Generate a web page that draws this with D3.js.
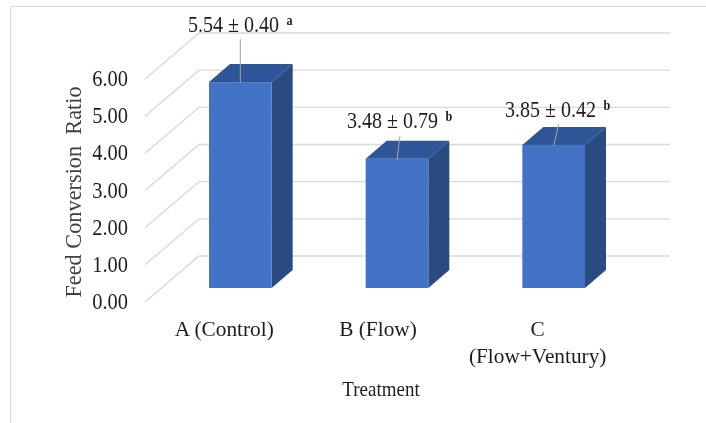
<!DOCTYPE html>
<html><head><meta charset="utf-8">
<script src="https://cdn.jsdelivr.net/npm/d3@7"></script>
<style>
html,body{margin:0;padding:0;background:#fff}
svg{display:block;filter:blur(0.35px)}
text{font-family:"Liberation Serif","Times New Roman",serif;fill:#1c1c1c}
</style></head><body>
<svg id="c" width="706" height="423"></svg>
<script>
const categories = ["A (Control)", "B (Flow)", "C"];
const categorySecondLines = ["", "", "(Flow+Ventury)"];
const values = [5.54, 3.48, 3.85];
const errors = ["0.40", "0.79", "0.42"];
const letters = ["a", "b", "b"];
const yTicks = [0, 1, 2, 3, 4, 5, 6];
const yTitle = "Feed Conversion\u00a0\u00a0Ratio";
const xTitle = "Treatment";

const svg = d3.select("#c");
const y = d3.scaleLinear().domain([0, 6]).range([302, 79]);   // front plane
const x = d3.scaleBand().domain(categories).range([115, 679]).padding(0.6);
const wall = {dx: 54, dy: -46, right: 670};
const bar = {dx: 21, dy: -18, lift: 14};
const barY = v => y(v) - bar.lift;
const squeeze = (px, py, sx) => `translate(${px},${py}) scale(${sx},1)`;

// frame
svg.append("path").attr("d", "M10.5,423V6.5H706").attr("fill", "none")
  .attr("stroke", "#d9d9d9").attr("stroke-width", 1);

// grid: side wall + back wall
const grid = svg.append("g").attr("fill", "none").attr("stroke", "#d9d9d9");
grid.selectAll("path").data(yTicks).join("path")
  .attr("stroke-width", 1.4)
  .attr("d", t => `M145,${y(t)}L${145 + wall.dx},${y(t) + wall.dy}H${wall.right}`);

// y axis
const ya = svg.append("g").attr("transform", "translate(128,0)")
  .call(d3.axisLeft(y).tickValues(yTicks).tickSize(0).tickPadding(0).tickFormat(d3.format(".2f")));
ya.select(".domain").remove();
ya.selectAll("text").attr("font-family", "Liberation Serif").attr("font-size", 23)
  .attr("fill", "#1c1c1c").attr("dy", null).attr("x", null)
  .attr("transform", "translate(0,6.6) scale(0.89,1)");

// bars
const g = svg.selectAll("g.bar").data(categories.map((c, i) => ({c, v: values[i], i})))
  .join("g").attr("class", "bar");
g.append("path").attr("fill", "#2e5597").attr("d", d => {
  const a = x(d.c), w = x.bandwidth(), t = barY(d.v);
  return `M${a},${t}l${bar.dx},${bar.dy}h${w}l${-bar.dx},${-bar.dy}z`;
});
g.append("path").attr("fill", "#2b4a7f").attr("d", d => {
  const b = x(d.c) + x.bandwidth(), t = barY(d.v), o = barY(0);
  return `M${b},${t}l${bar.dx},${bar.dy}V${o + bar.dy}L${b},${o}z`;
});
g.append("rect").attr("fill", "#4472c4")
  .attr("x", d => x(d.c)).attr("width", x.bandwidth())
  .attr("y", d => barY(d.v)).attr("height", d => barY(0) - barY(d.v));

// leaders and value labels
const leaderTop = [44, 24, 22], leaderLean = [0, 3, 5];
const labelX = [188, 347, 505], labelBase = [32, 128, 117];
g.append("line").attr("stroke", "#a6a6a6").attr("stroke-width", 1)
  .attr("x1", d => x(d.c) + x.bandwidth() / 2).attr("y1", d => barY(d.v) + 1)
  .attr("x2", d => x(d.c) + x.bandwidth() / 2 + leaderLean[d.i]).attr("y2", d => barY(d.v) + 1 - leaderTop[d.i]);
const lab = g.append("text").attr("font-size", 23)
  .attr("transform", d => squeeze(labelX[d.i], labelBase[d.i], 0.87));
lab.append("tspan").text(d => `${d.v.toFixed(2)} ± ${errors[d.i]} `);
lab.append("tspan").attr("font-size", 14).attr("font-weight", "bold").attr("dx", 3).attr("dy", -7).text(d => letters[d.i]);

// category labels
const catShift = [-16, -19, -16];
g.append("text").attr("text-anchor", "middle").attr("font-size", 22)
  .attr("transform", d => squeeze(x(d.c) + x.bandwidth() / 2 + catShift[d.i], 336, 0.97)).text(d => d.c);
g.append("text").attr("text-anchor", "middle").attr("font-size", 22)
  .attr("transform", d => squeeze(x(d.c) + x.bandwidth() / 2 + catShift[d.i], 363, 0.97)).text(d => categorySecondLines[d.i]);

// titles
svg.append("text").attr("text-anchor", "middle").attr("font-size", 20)
  .attr("transform", squeeze(381, 396, 0.95)).text(xTitle);
svg.append("text").attr("text-anchor", "middle").attr("font-size", 22.3)
  .attr("transform", "translate(81,192) rotate(-90)").style("fill", "#404040").text(yTitle);
</script>
</body></html>
